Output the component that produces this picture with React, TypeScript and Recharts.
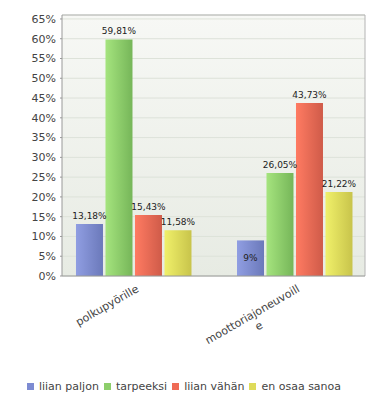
import { BarChart, Bar, XAxis, YAxis, CartesianGrid, Legend, LabelList, ReferenceLine } from 'recharts';

const categories = ['polkupyörille', 'moottoriajoneuvoille'];
const seriesNames = ['liian paljon', 'tarpeeksi', 'liian vähän', 'en osaa sanoa'];
const liianPaljon = [13.18, 9];
const tarpeeksi = [59.81, 26.05];
const liianVahan = [15.43, 43.73];
const enOsaaSanoa = [11.58, 21.22];
const yTicks = [0, 5, 10, 15, 20, 25, 30, 35, 40, 45, 50, 55, 60, 65];

const seriesKeys = ['a', 'b', 'c', 'd'];
const seriesValues = [liianPaljon, tarpeeksi, liianVahan, enOsaaSanoa];
const barColors = [
  ['#909ee2', '#6b79ba'],
  ['#a5e47e', '#76b659'],
  ['#ff7b62', '#cf5b49'],
  ['#f0f06a', '#c8c44b'],
];
const legendColors = ['#7d8bd2', '#8dce6b', '#ef6b56', '#dedb5a'];

const data = categories.map((name, i) => {
  const row: any = { idx: i, name };
  seriesKeys.forEach((k, s) => (row[k] = seriesValues[s][i]));
  return row;
});

const FONT = '"DejaVu Sans", Verdana, sans-serif';
const X_MIN = -0.444;
const X_MAX = 1.438;

let ctx: CanvasRenderingContext2D | null = null;
function textWidth(s: string, font: string) {
  if (!ctx) ctx = document.createElement('canvas').getContext('2d');
  if (!ctx) return s.length * 6;
  ctx.font = font;
  return ctx.measureText(s).width;
}

// break long labels by character, like the original chart does
function wrap(s: string, maxW: number, font: string) {
  const lines: string[] = [];
  let cur = '';
  for (const ch of s) {
    if (cur && textWidth(cur + ch, font) > maxW) {
      lines.push(cur);
      cur = ch;
    } else cur += ch;
  }
  if (cur) lines.push(cur);
  return lines;
}

function CategoryTick({ x, y, payload }: any) {
  const label = categories[payload.value] ?? '';
  const font = `11px ${FONT}`;
  const full = textWidth('moottoriajoneuvoille', font);
  const lines = wrap(label, full - 3, font);
  const w = Math.max(...lines.map((l) => textWidth(l, font)));
  return (
    <g transform={`translate(${x + 6},${y + 15})`}>
      <text transform="rotate(-30)" textAnchor="middle" fontSize={11} fontFamily={FONT} fill="#444">
        {lines.map((l, i) => (
          <tspan key={i} x={-w / 2} y={i * 13}>
            {l}
          </tspan>
        ))}
      </text>
    </g>
  );
}

function fmt(v: number) {
  return String(v).replace('.', ',') + '%';
}

function ValueLabel({ x, y, width, height, value }: any) {
  const inside = value < 10;
  return (
    <text
      x={x + width / 2}
      y={inside ? y + height / 2 + 3 : y - 5}
      textAnchor="middle"
      fontSize={9}
      fontFamily={FONT}
      fill="#222"
    >
      {fmt(value)}
    </text>
  );
}

function LegendContent() {
  return (
    <div
      style={{
        display: 'flex',
        justifyContent: 'center',
        alignItems: 'center',
        height: 22,
        fontFamily: FONT,
        fontSize: 11,
        color: '#444',
        paddingLeft: 8,
      }}
    >
      {seriesNames.map((n, i) => (
        <span key={n} style={{ display: 'flex', alignItems: 'center', marginRight: 5 }}>
          <span style={{ width: 7, height: 7, background: legendColors[i], marginRight: 5 }} />
          {n}
        </span>
      ))}
    </div>
  );
}

export default function App() {
  return (
    <div style={{ position: 'absolute', left: 0, top: 0, fontFamily: FONT }}>
      <BarChart width={380} height={400} data={data} margin={{ top: 15, right: 15, left: 0, bottom: 3 }} barGap={2.5}>
        <defs>
          <linearGradient id="plotBg" x1="0" y1="0" x2="0" y2="1">
            <stop offset="0%" stopColor="#f7f8f5" />
            <stop offset="100%" stopColor="#e7ebe3" />
          </linearGradient>
          {barColors.map((c, i) => (
            <linearGradient key={i} id={`bar${i}`} x1="0" y1="0" x2="1" y2="0">
              <stop offset="0%" stopColor={c[0]} />
              <stop offset="100%" stopColor={c[1]} />
            </linearGradient>
          ))}
        </defs>
        <CartesianGrid vertical={false} stroke="#dde2d9" fill="url(#plotBg)" fillOpacity={1} />
        <XAxis
          dataKey="idx"
          type="number"
          domain={[X_MIN, X_MAX]}
          ticks={[0, 1]}
          allowDataOverflow
          tickLine={false}
          tickSize={0}
          tickMargin={0}
          axisLine={{ stroke: '#999' }}
          tick={<CategoryTick />}
          height={99}
          interval={0}
        />
        <YAxis
          domain={[0, 66]}
          ticks={yTicks}
          allowDataOverflow
          width={62}
          tickSize={2}
          tickMargin={4}
          tickLine={{ stroke: '#999' }}
          axisLine={{ stroke: '#999' }}
          tickFormatter={(v) => `${v}%`}
          tick={{ fill: '#444', fontSize: 11, fontFamily: FONT }}
          interval={0}
        />
        <ReferenceLine y={66} stroke="#b4b4b4" />
        <ReferenceLine x={X_MAX} stroke="#b4b4b4" />
        <Legend verticalAlign="bottom" content={<LegendContent />} />
        {seriesKeys.map((k, i) => (
          <Bar key={k} dataKey={k} name={seriesNames[i]} fill={`url(#bar${i})`} barSize={27} isAnimationActive={false}>
            <LabelList dataKey={k} content={<ValueLabel />} />
          </Bar>
        ))}
      </BarChart>
    </div>
  );
}
